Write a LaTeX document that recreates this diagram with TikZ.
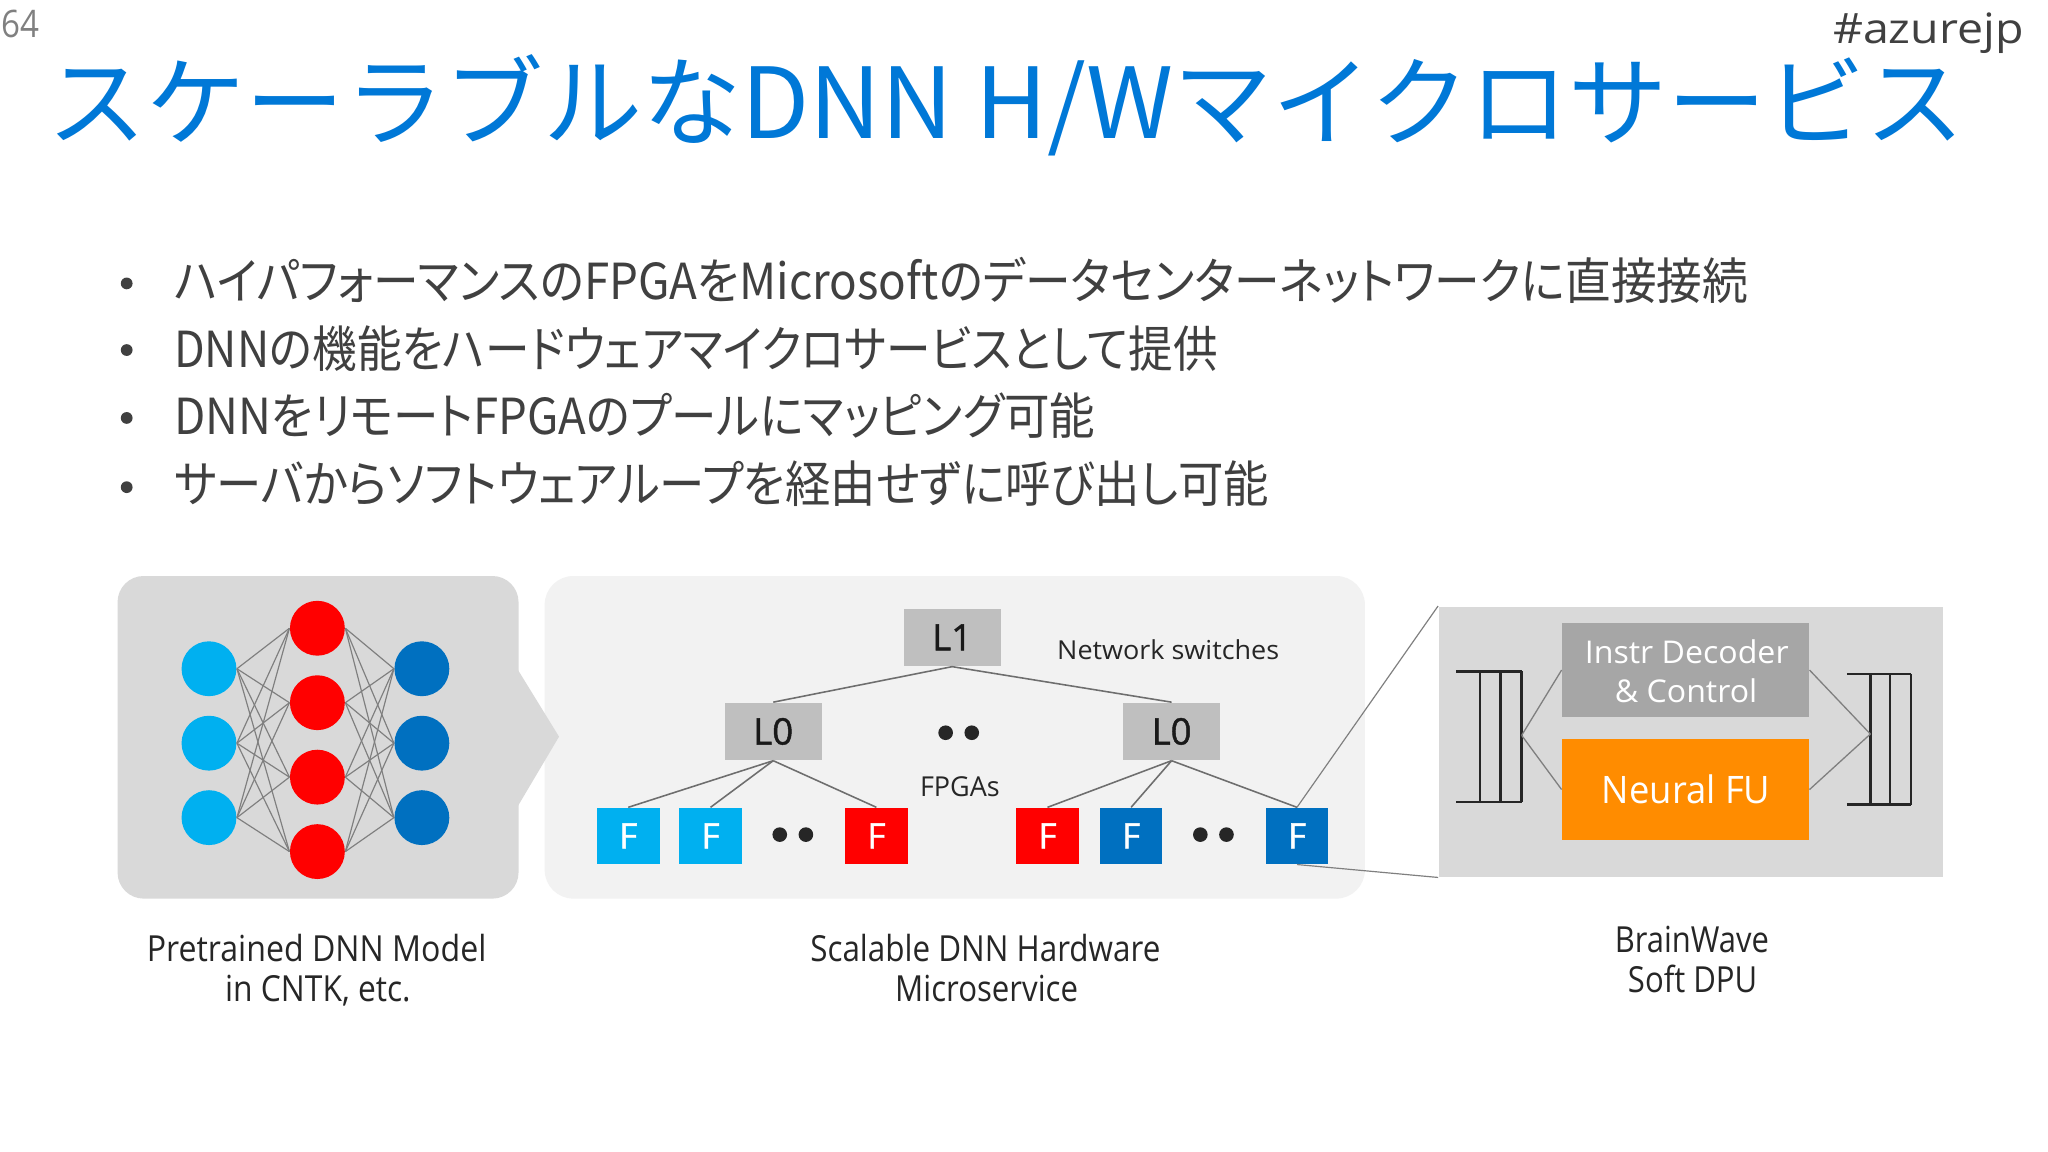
\documentclass[tikz,border=0pt]{standalone}
\usepackage{fontspec}
\usepackage{graphicx}
\setmainfont{Open Sans}
\newfontfamily\semib[FakeBold=1.3]{Open Sans}
\newfontfamily\jp{Noto Sans CJK JP}
\newfontfamily\jpp[RawFeature=+palt]{Noto Sans CJK JP}
\newcommand\fitw[2]{\resizebox{#1}{\height}{#2}}
\definecolor{titleblue}{HTML}{0078D7}
\definecolor{bodytext}{HTML}{404040}
\definecolor{boxgrey}{HTML}{D9D9D9}
\definecolor{lightbox}{HTML}{F2F2F2}
\definecolor{swgrey}{HTML}{BFBFBF}
\definecolor{instrgrey}{HTML}{A6A6A6}
\definecolor{fuorange}{HTML}{FF8C00}
\definecolor{lblue}{HTML}{00B0F0}
\definecolor{dblue}{HTML}{0070C0}
\definecolor{nnred}{HTML}{FF0000}
\definecolor{linegrey}{HTML}{7F7F7F}
\definecolor{treegrey}{HTML}{6E6E6E}
\definecolor{regblack}{HTML}{262626}
\tikzset{
  txt/.style={anchor=base west, inner sep=0},
  nnode/.style={circle, minimum size=21pt, inner sep=0},
  swbox/.style={fill=swgrey, minimum width=37pt, minimum height=22pt, inner sep=0, text=black!90, font=\semib\fontsize{14pt}{15pt}\selectfont},
  fbox/.style={minimum width=24pt, minimum height=21.5pt, inner sep=0, text=white, font=\semib\fontsize{13.5pt}{14pt}\selectfont},
  nnlink/.style={draw=linegrey, line width=0.45pt},
  treelink/.style={draw=treegrey, line width=0.6pt},
  zoomlink/.style={draw=linegrey, line width=0.45pt},
  reglink/.style={draw=linegrey, line width=0.5pt},
  regline/.style={draw=regblack, line width=1pt},
  dotmark/.style={circle, fill=black!85, minimum size=5.6pt, inner sep=0},
  bulletmark/.style={circle, fill=bodytext, minimum size=4.5pt, inner sep=0},
  lbl/.style={txt, text=black!85, font=\fontsize{13.75pt}{15pt}\selectfont},
  bul/.style={txt, text=bodytext, font=\jpp\fontsize{19pt}{22pt}\selectfont},
}
\begin{document}
\begin{tikzpicture}[x=0.5pt,y=-0.5pt]
\useasboundingbox (0,0) rectangle (1568,882);
\fill[white] (0,0) rectangle (1568,882);

% header
\node[txt, text=black!50, font=\fontsize{14.5pt}{16pt}\selectfont] (pnum) at (1,29) {\fitw{14.5pt}{64}};
\node[txt, text=bodytext, font=\fontsize{16pt}{18pt}\selectfont] (tag) at (1403,33) {\fitw{73pt}{\#azurejp}};
\node[txt, text=titleblue, font=\jp\fontsize{37.5pt}{40pt}\selectfont] (title) at (36,106) {\fitw{734pt}{スケーラブルなDNN H/Wマイクロサービス}};

% bullets
\node[bulletmark] (d1) at (97,217) {};
\node[bulletmark] (d2) at (97,268) {};
\node[bulletmark] (d3) at (97,320) {};
\node[bulletmark] (d4) at (97,373) {};
\node[bul] (b1) at (133,229) {\fitw{602.5pt}{ハイパフォーマンスのFPGAをMicrosoftのデータセンターネットワークに直接接続}};
\node[bul] (b2) at (133,281) {\fitw{399.5pt}{DNNの機能をハードウェアマイクロサービスとして提供}};
\node[bul] (b3) at (133,333) {\fitw{352.5pt}{DNNをリモートFPGAのプールにマッピング可能}};
\node[bul] (b4) at (133,385) {\fitw{419pt}{サーバからソフトウェアループを経由せずに呼び出し可能}};

% panels
\fill[lightbox, rounded corners=11pt] (417,441) rectangle (1045,688);
\fill[boxgrey, rounded corners=10pt] (90,441) rectangle (397,688);
\fill[boxgrey] (396,512) -- (428,564) -- (396,618) -- cycle;
\node[fill=boxgrey, minimum width=193pt, minimum height=103.5pt, inner sep=0, anchor=north west] (rbox) at (1101,464) {};

% neural net
\foreach \i/\y in {1/512,2/569,3/626} {
  \node[nnode, fill=lblue] (i\i) at (160,\y) {};
  \node[nnode, fill=dblue] (o\i) at (323,\y) {};
}
\foreach \i/\y in {1/481,2/538,3/595,4/652} {
  \node[nnode, fill=nnred] (h\i) at (243,\y) {};
}
\foreach \a in {1,2,3} {
  \foreach \b in {1,2,3,4} {
    \draw[nnlink] (i\a.east) -- (h\b.west);
    \draw[nnlink] (h\b.east) -- (o\a.west);
  }
}

% network tree
\node[swbox] (l1) at (729,488) {L1};
\node[swbox] (l0a) at (592,560) {L0};
\node[swbox] (l0b) at (897,560) {L0};
\node[dotmark] (md1) at (724,561) {};
\node[dotmark] (md2) at (744,561) {};
\node[fbox, fill=lblue] (f1) at (481,640) {F};
\node[fbox, fill=lblue] (f2) at (544,640) {F};
\node[dotmark] (ld1) at (597,639) {};
\node[dotmark] (ld2) at (617,639) {};
\node[fbox, fill=nnred] (f3) at (671,640) {F};
\node[fbox, fill=nnred] (f4) at (802,640) {F};
\node[fbox, fill=dblue] (f5) at (866,640) {F};
\node[dotmark] (rd1) at (919,639) {};
\node[dotmark] (rd2) at (939,639) {};
\node[fbox, fill=dblue] (f6) at (993,640) {F};
\draw[treelink] (l1.south) -- (l0a.north);
\draw[treelink] (l1.south) -- (l0b.north);
\foreach \f in {f1,f2,f3} \draw[treelink] (l0a.south) -- (\f.north);
\foreach \f in {f4,f5,f6} \draw[treelink] (l0b.south) -- (\f.north);
\node[txt, text=black!85, font=\fontsize{10pt}{12pt}\selectfont] (nsw) at (809,505) {\fitw{85pt}{Network switches}};
\node[txt, text=black!85, font=\fontsize{10.5pt}{12pt}\selectfont] (fpgas) at (704,609.5) {\fitw{30.5pt}{FPGAs}};

% zoom lines
\draw[zoomlink] (f6.north) -- (rbox.north west);
\draw[zoomlink] (f6.south) -- (rbox.south west);

% soft DPU
\node[fill=instrgrey, minimum width=94.5pt, minimum height=36pt, inner sep=0] (instr) at (1290.5,513) {};
\node[fill=fuorange, minimum width=94.5pt, minimum height=38.5pt, inner sep=0] (neural) at (1290.5,604.5) {};
\node[txt, text=white, font=\fontsize{12pt}{14pt}\selectfont] (it1) at (1213,508) {\fitw{78pt}{Instr Decoder}};
\node[txt, text=white, font=\fontsize{12pt}{14pt}\selectfont] (it2) at (1236,538) {\fitw{54.5pt}{\& Control}};
\node[txt, text=white, font=\fontsize{14.5pt}{16pt}\selectfont] (nt) at (1226,615) {\fitw{64.5pt}{Neural FU}};

% registers
\draw[regline] (1115,514) -- (1165,514);
\draw[regline] (1115,614) -- (1165,614);
\foreach \x in {1133,1149,1165} \draw[regline] (\x,514) -- (\x,614);
\draw[regline] (1414,516) -- (1463,516);
\draw[regline] (1414,616) -- (1463,616);
\foreach \x in {1432,1447,1463} \draw[regline] (\x,516) -- (\x,616);
\coordinate (regL) at (1165,563);
\coordinate (regR) at (1432,562);
\draw[reglink] (regL) -- (instr.west);
\draw[reglink] (regL) -- (neural.west);
\draw[reglink] (instr.east) -- (regR);
\draw[reglink] (neural.east) -- (regR);

% captions
\node[lbl] (c1a) at (112,736.5) {\fitw{130pt}{Pretrained DNN Model}};
\node[lbl] (c1b) at (172,766.5) {\fitw{71pt}{in CNTK, etc.}};
\node[lbl] (c2a) at (620,736.5) {\fitw{134pt}{Scalable DNN Hardware}};
\node[lbl] (c2b) at (685,766.5) {\fitw{70pt}{Microservice}};
\node[lbl] (c3a) at (1236,729) {\fitw{59pt}{BrainWave}};
\node[lbl] (c3b) at (1246,759.5) {\fitw{49.5pt}{Soft DPU}};
\end{tikzpicture}
\end{document}
